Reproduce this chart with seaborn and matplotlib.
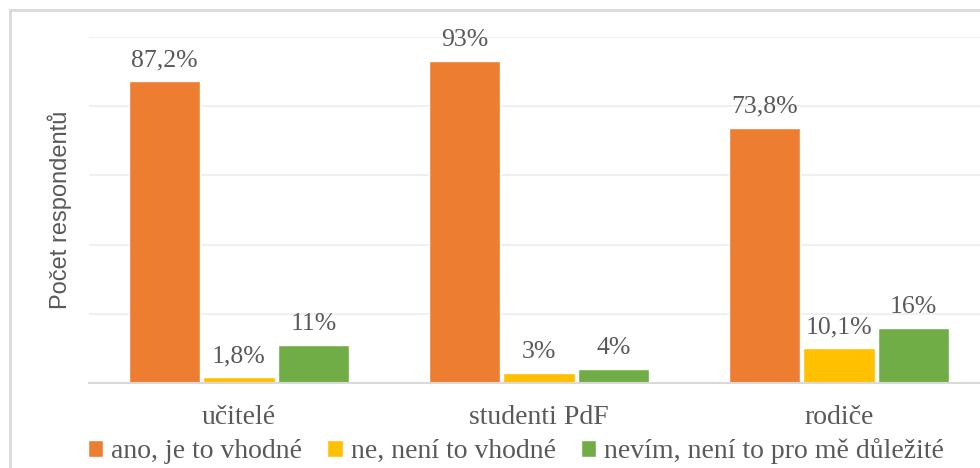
import pandas as pd
import numpy as np
import seaborn as sns
import matplotlib.pyplot as plt
from matplotlib.patches import Rectangle

# Data
skupiny = ["učitelé", "studenti PdF", "rodiče"]
odpovedi = ["ano, je to vhodné", "ne, není to vhodné", "nevím, není to pro mě důležité"]
ano = [87.2, 93, 73.8]
ne = [1.8, 3, 10.1]
nevim = [11, 4, 16]
popisky_ano = ["87,2%", "93%", "73,8%"]
popisky_ne = ["1,8%", "3%", "10,1%"]
popisky_nevim = ["11%", "4%", "16%"]
barvy = ["#ED7D31", "#FFC000", "#70AD47"]

df = pd.DataFrame({
    "skupina": skupiny * 3,
    "odpoved": [odpovedi[0]] * 3 + [odpovedi[1]] * 3 + [odpovedi[2]] * 3,
    "hodnota": ano + ne + nevim,
})

sns.set_style("white")
plt.rcParams["font.family"] = ["Liberation Serif", "DejaVu Serif"]
text_color = "#595959"

fig = plt.figure(figsize=(9.8, 4.68), dpi=100)
ax = fig.add_axes([89 / 980, 1 - 383 / 468, 900 / 980, (383 - 37) / 468])

sns.barplot(data=df, x="skupina", y="hodnota", hue="odpoved", palette=barvy,
            width=0.745, gap=0.035, saturation=1, ax=ax)

# bar labels
for cont, labs in zip(ax.containers, [popisky_ano, popisky_ne, popisky_nevim]):
    ax.bar_label(cont, labels=labs, padding=7, fontsize=18.5, color=text_color)

ax.set_ylim(0, 100)
ax.set_xlim(-0.5, 2.5)
ax.set_yticks(np.arange(0, 101, 20))
ax.set_yticklabels([])
ax.yaxis.grid(True, color="#EEF0F6", linewidth=1.5)
ax.set_axisbelow(True)
for s in ["top", "right", "left"]:
    ax.spines[s].set_visible(False)
ax.spines["bottom"].set_color("#D9D9D9")
ax.spines["bottom"].set_linewidth(1.5)
ax.tick_params(axis="both", length=0)
ax.tick_params(axis="x", pad=16, labelsize=20, labelcolor=text_color)
ax.set_xlabel("")
ax.set_ylabel("Počet respondentů", fontsize=17, color=text_color,
              family=["Liberation Sans", "DejaVu Sans"], labelpad=9)

# legend below the axes
handles, labels = ax.get_legend_handles_labels()
ax.get_legend().remove()
fig.legend(handles, labels, loc="center", bbox_to_anchor=(516 / 980, 1 - 451 / 468),
           ncol=3, frameon=False, prop={"family": "Liberation Serif", "size": 20},
           labelcolor=text_color,
           handlelength=0.55, handleheight=0.55, handletextpad=0.3, columnspacing=0.9,
           borderaxespad=0, borderpad=0)

# outer chart frame
fig.patches.append(Rectangle((10 / 980, -0.2), 1.2, 1.2 - 10 / 468, transform=fig.transFigure,
                             fill=False, edgecolor="#D9D9D9", linewidth=2))

plt.savefig("out.png", dpi=100)
